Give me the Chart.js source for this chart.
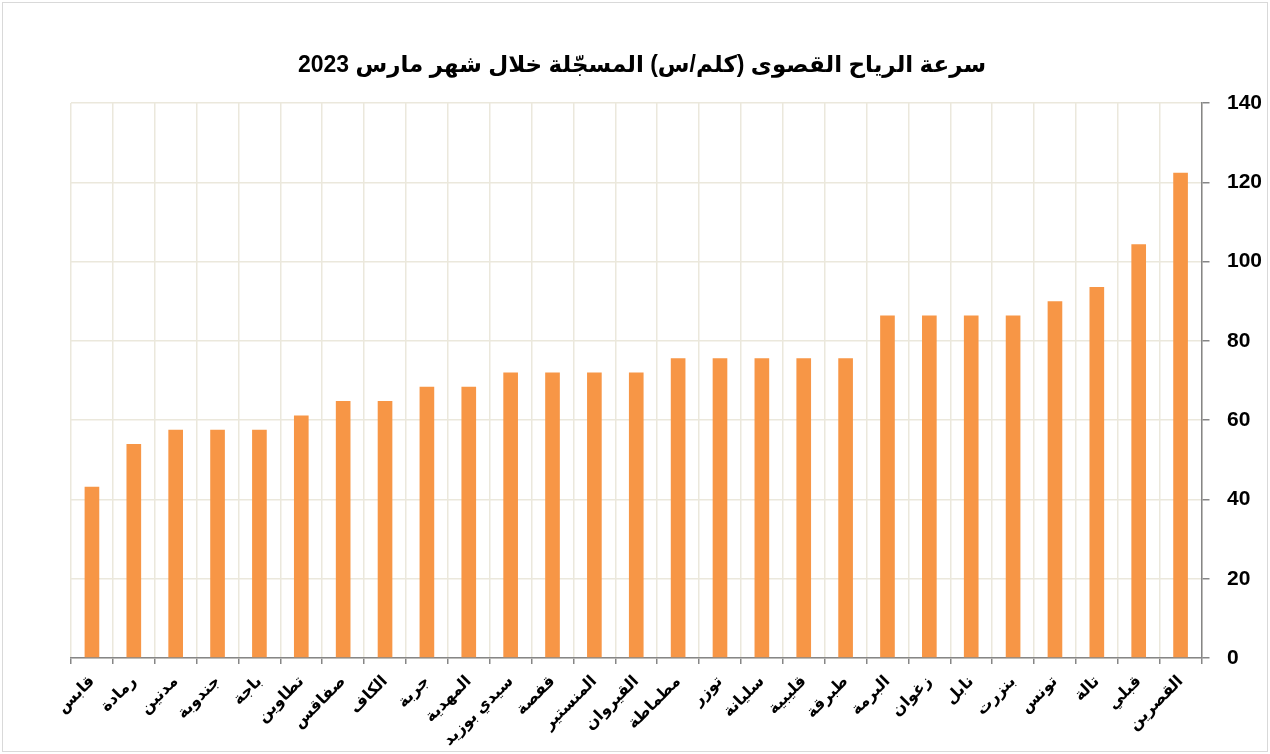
<!DOCTYPE html>
<html>
<head>
<meta charset="utf-8">
<script src="https://cdn.jsdelivr.net/npm/chart.js@4/dist/chart.umd.min.js"></script>
<style>
  html, body { margin: 0; padding: 0; background: #fff; }
  #wrap { position: absolute; left: 2px; top: 2px; width: 1264px; height: 748px; border: 1px solid #d9d9d9; }
</style>
</head>
<body>
<div id="wrap"><canvas id="myChart" width="1264" height="748"></canvas></div>
<script>
// المحطات من اليسار إلى اليمين
var stations = ['قابس', 'رمادة', 'مدنين', 'جندوبة', 'باجة', 'تطاوين', 'صفاقس', 'الكاف', 'جربة', 'المهدية',
  'سيدي بوزيد', 'قفصة', 'المنستير', 'القيروان', 'مطماطة', 'توزر', 'سليانة', 'قليبية', 'طبرقة', 'البرمة',
  'زغوان', 'نابل', 'بنزرت', 'تونس', 'تالة', 'قبلي', 'القصرين'];
// سرعة الرياح القصوى كلم/س
var maxWind = [43.2, 54, 57.6, 57.6, 57.6, 61.2, 64.8, 64.8, 68.4, 68.4,
  72, 72, 72, 72, 75.6, 75.6, 75.6, 75.6, 75.6, 86.4,
  86.4, 86.4, 86.4, 90, 93.6, 104.4, 122.4];
var chartTitle = 'سرعة الرياح القصوى (كلم/س) المسجّلة خلال شهر مارس 2023';

// titre dessiné à la main (centré comme dans l'original)
var titlePlugin = {
  id: 'titleOverPlot',
  afterDraw: function (chart) {
    var c = chart.ctx;
    c.save();
    c.fillStyle = '#000';
    c.font = 'bold 23px Arial, "Liberation Sans", "DejaVu Sans"';
    c.textAlign = 'center';
    c.textBaseline = 'middle';
    c.fillText(chartTitle, chart.width / 2 + 7, 63);
    c.restore();
  }
};

var ctx = document.getElementById('myChart').getContext('2d');
var myChart = new Chart(ctx, {
  type: 'bar',
  data: {
    labels: stations,
    datasets: [{
      label: chartTitle,
      data: maxWind,
      backgroundColor: '#F79646',
      borderWidth: 0,
      barPercentage: 0.35,
      categoryPercentage: 1
    }]
  },
  plugins: [titlePlugin],
  options: {
    responsive: false,
    animation: false,
    layout: { padding: { left: 68, right: 0, top: 100, bottom: 0 } },
    plugins: {
      legend: { display: false },
      tooltip: { enabled: false },
      title: { display: false }
    },
    scales: {
      x: {
        offset: true,
        afterFit: function (scale) { scale.height = 93; },
        grid: { offset: true, color: '#EBE8DC', lineWidth: 1.5, tickColor: '#868686', tickLength: 6 },
        border: { color: '#868686', width: 1.5 },
        ticks: {
          color: '#000',
          maxRotation: 45,
          minRotation: 45,
          autoSkip: false,
          padding: 8,
          font: { family: 'Arial, "DejaVu Sans"', size: 16, weight: 'bold' }
        }
      },
      y: {
        position: 'right',
        min: 0,
        max: 140,
        afterFit: function (scale) { scale.width = 65.5; },
        grid: { color: '#EBE8DC', lineWidth: 1.5, tickColor: '#868686', tickLength: 8 },
        border: { color: '#868686', width: 1.5 },
        ticks: {
          stepSize: 20,
          color: '#000',
          padding: 17.5,
          font: { family: '"Liberation Sans", Arial', size: 21, weight: 'bold' }
        }
      }
    }
  }
});
</script>
</body>
</html>
